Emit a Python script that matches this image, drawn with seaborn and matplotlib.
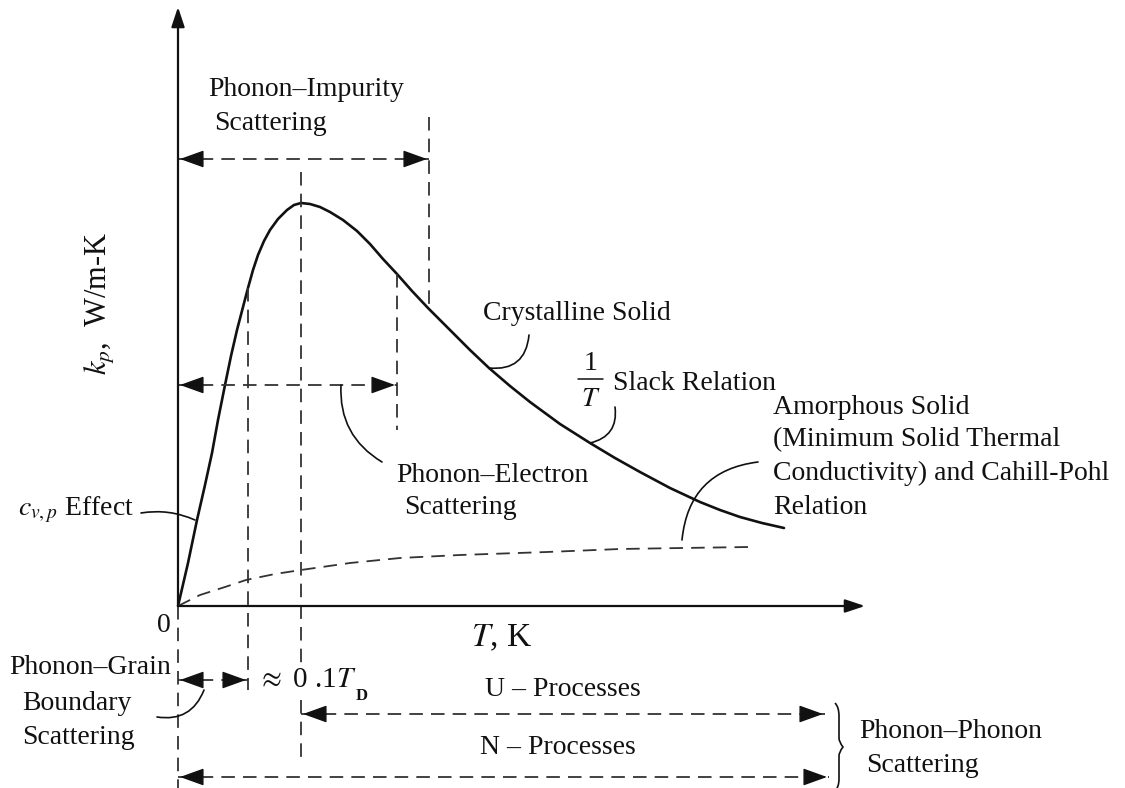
import numpy as np
import pandas as pd
import matplotlib
matplotlib.use("Agg")
import matplotlib.pyplot as plt
from matplotlib.path import Path
from matplotlib.patches import PathPatch
import seaborn as sns

# Schematic temperature dependence of the phonon thermal conductivity
T_crystal = [0, 1.0, 1.9, 2.7, 3.4, 4.0, 4.7, 5.3, 5.9, 6.5, 7.0, 7.5, 8.0, 8.6,
             9.2, 10.0, 10.9, 11.6, 12.3, 13.2, 14.2, 15.2, 16.5, 17.9, 19.2,
             20.5, 21.9, 23.4, 25.0, 27.2, 29.2, 31.1, 33.2, 35.2, 38.2, 41.2,
             43.7, 46.2, 49.2, 52.2, 54.2, 56.2, 58.4, 60.6]
k_crystal = [0, 4.3, 8.6, 12.1, 15.3, 18.6, 22.1, 25.0, 27.6, 29.9, 31.8, 33.6,
             35.1, 36.5, 37.6, 38.7, 39.6, 40.1, 40.3, 40.2, 39.9, 39.4, 38.6,
             37.5, 36.2, 34.7, 33.2, 31.5, 29.8, 27.6, 25.6, 23.8, 22.0, 20.4,
             18.2, 16.3, 14.8, 13.4, 11.8, 10.4, 9.6, 8.9, 8.3, 7.8]

T_amorph = [0, 2.2, 4.7, 6.8, 9.7, 12.3, 17.2, 22.2, 28.2, 36.9, 44.2, 50.4, 57.1]
k_amorph = [0, 1.1, 1.9, 2.6, 3.2, 3.6, 4.3, 4.8, 5.1, 5.4, 5.7, 5.8, 5.9]

# Characteristic temperatures marked on the curve
T_grain = 7.0       # end of grain-boundary regime (~0.1 T_D)
T_peak = 12.3       # conductivity maximum
T_electron = 21.9   # end of phonon-electron regime
T_impurity = 25.1   # end of phonon-impurity regime
T_u_end = 64.7      # right end of the U-process range
T_n_end = 65.1      # right end of the N-process range

sns.set_theme(style="white")
plt.rcParams["font.family"] = ["Liberation Serif", "DejaVu Serif"]
plt.rcParams["mathtext.fontset"] = "stix"

fig = plt.figure(figsize=(11.25, 7.88), dpi=100)
ax = fig.add_axes([0, 0, 1, 1])
ax.set_xlim(-17.8, 94.7)
ax.set_ylim(-18.2, 60.6)
ax.axis("off")

INK = "#111111"
DASH_C = "#333333"
DASH = (0, (7.5, 4.5))
FS = 20

df_c = pd.DataFrame({"T": T_crystal, "k": k_crystal})
df_a = pd.DataFrame({"T": T_amorph, "k": k_amorph})
sns.lineplot(data=df_c, x="T", y="k", ax=ax, color=INK, lw=1.9, sort=False)
sns.lineplot(data=df_a, x="T", y="k", ax=ax, color=DASH_C, lw=1.3,
             linestyle=DASH, sort=False)
ax.set_xlabel("")
ax.set_ylabel("")


def k_at(t):
    return float(np.interp(t, T_crystal, k_crystal))


# Coordinate axes with arrow heads
axis_arrow = dict(arrowstyle="-|>,head_length=0.6,head_width=0.2",
                  mutation_scale=20, color=INK, lw=1.6, shrinkA=0, shrinkB=0)
ax.annotate("", xy=(0, 59.9), xytext=(0, 0), arrowprops=axis_arrow)
ax.annotate("", xy=(68.7, 0), xytext=(0, 0), arrowprops=axis_arrow)


def vdash(t, k0, k1):
    ax.plot([t, t], [k0, k1], color=DASH_C, lw=1.3, linestyle=DASH)


def head(tip, direction):
    dx, dy = direction
    ax.annotate("", xy=tip, xytext=(tip[0] - 1.9 * dx, tip[1] - 1.9 * dy),
                arrowprops=dict(arrowstyle="-|>,head_length=0.75,head_width=0.27",
                                mutation_scale=20, color=INK, lw=1.0,
                                shrinkA=0, shrinkB=0))


def hdash_arrow(t0, t1, k, left=True, right=True):
    ax.plot([t0, t1], [k, k], color=DASH_C, lw=1.3, linestyle=DASH)
    if left:
        head((t0 + 0.2, k), (-1, 0))
    if right:
        head((t1 - 0.2, k), (1, 0))


# Vertical guide lines
vdash(0, 0, -18.2)
vdash(T_grain, k_at(T_grain), -8.4)
vdash(T_peak, 43.4, -5.9)
vdash(T_peak, -9.4, -15.4)
vdash(T_electron, k_at(T_electron), 17.6)
vdash(T_impurity, 48.9, k_at(T_impurity))

# Range arrows
hdash_arrow(0, T_impurity, 44.7)
hdash_arrow(0, T_electron, 22.1)
hdash_arrow(0, T_grain, -7.4)
hdash_arrow(T_peak, T_u_end, -10.8)
hdash_arrow(0, T_n_end, -17.1)


def leader(start, end, rad):
    ax.annotate("", xy=end, xytext=start,
                arrowprops=dict(arrowstyle="-", connectionstyle=f"arc3,rad={rad}",
                                color=INK, lw=1.2, shrinkA=0, shrinkB=0))


leader((16.3, 22.1), (20.4, 14.4), 0.3)        # phonon-electron
leader((35.1, 27.1), (31.1, 23.8), -0.5)       # crystalline solid
leader((43.7, 19.9), (41.2, 16.3), -0.45)      # slack relation
leader((58.0, 14.4), (50.4, 6.6), 0.4)         # amorphous solid
leader((-3.7, 9.3), (1.7, 8.6), -0.15)         # c_v,p effect
leader((2.6, -8.4), (-2.1, -11.1), -0.4)       # grain boundary

# Brace grouping the U and N processes
bx = 66.0
brace = Path([(bx - 0.3, -9.7), (bx + 0.1, -10.1), (bx + 0.1, -11.0),
              (bx + 0.1, -13.2), (bx + 0.1, -13.6), (bx + 0.5, -14.1),
              (bx + 0.1, -14.6), (bx + 0.1, -15.0), (bx + 0.1, -17.3),
              (bx + 0.1, -18.1), (bx - 0.3, -18.5)],
             [Path.MOVETO, Path.CURVE3, Path.CURVE3,
              Path.LINETO, Path.CURVE3, Path.CURVE3,
              Path.CURVE3, Path.CURVE3, Path.LINETO,
              Path.CURVE3, Path.CURVE3])
ax.add_patch(PathPatch(brace, fill=False, color=INK, lw=1.2))


# Text annotations
def label(x, y, s, ha="left", size=FS, **kw):
    ax.text(x, y, s, ha=ha, va="center", fontsize=size, color=INK, **kw)


label(3.0, 51.6, "Phonon–Impurity")
label(3.6, 48.3, "Scattering")
label(30.5, 29.3, "Crystalline Solid")
label(41.3, 24.3, "1", ha="center")
ax.plot([40.0, 42.5], [22.7, 22.7], color=INK, lw=1.1)
label(41.3, 20.7, r"$T$", ha="center")
label(43.5, 22.3, "Slack Relation")
label(59.5, 19.9, "Amorphous Solid")
label(59.5, 16.6, "(Minimum Solid Thermal")
label(59.5, 13.3, "Conductivity) and Cahill-Pohl")
label(59.5, 9.9, "Relation")
label(21.8, 13.1, "Phonon–Electron")
label(22.6, 9.8, "Scattering")
label(-16.0, 9.6, r"$c_{v,p}$ Effect")
label(-1.4, -1.9, "0", ha="center")
label(29.3, -3.2, r"$T$, K", size=24)
label(-16.9, -6.2, "Phonon–Grain")
label(-15.6, -9.7, "Boundary")
label(-15.6, -13.1, "Scattering")
label(7.9, -7.4, r"$\approx$ 0 .1$T$", size=21)
label(17.8, -9.0, "D", size=12, fontweight="bold")
label(30.7, -8.4, "U – Processes")
label(30.2, -14.2, "N – Processes")
label(68.1, -12.6, "Phonon–Phonon")
label(68.8, -15.9, "Scattering")
ax.text(-7.8, 30.3, r"$k_p$,  W/m-K", rotation=90, ha="center", va="center",
        fontsize=22, color=INK)

fig.savefig("out.png", dpi=100, facecolor="white")
